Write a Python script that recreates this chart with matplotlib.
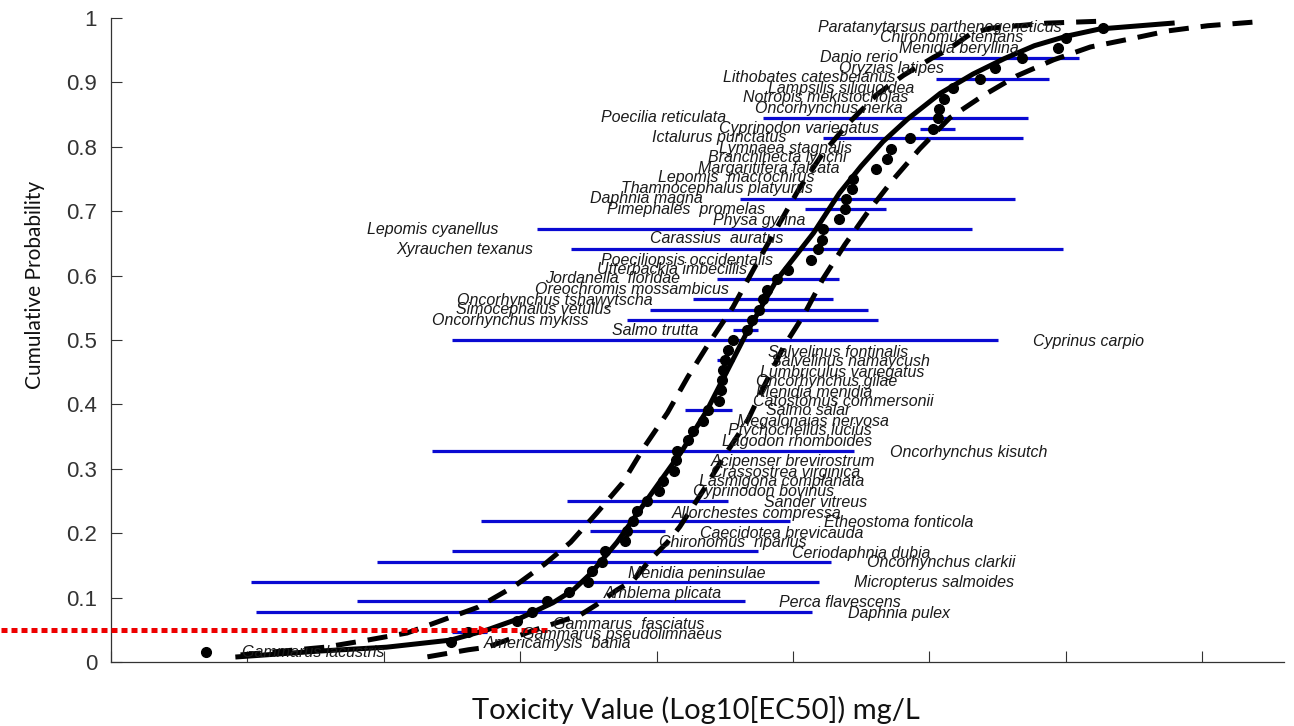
import matplotlib
matplotlib.use("Agg")
import matplotlib.pyplot as plt

# species ranked from most to least sensitive
species = [
    "Gammarus lacustris", "Americamysis  bahia", "Gammarus pseudolimnaeus", "Gammarus  fasciatus",
    "Daphnia pulex", "Perca flavescens", "Amblema plicata", "Micropterus salmoides",
    "Menidia peninsulae", "Oncorhynchus clarkii", "Ceriodaphnia dubia", "Chironomus  riparius",
    "Caecidotea brevicauda", "Etheostoma fonticola", "Allorchestes compressa", "Sander vitreus",
    "Cyprinodon bovinus", "Lasmigona complanata", "Crassostrea virginica", "Acipenser brevirostrum",
    "Oncorhynchus kisutch", "Lagodon rhomboides", "Ptychocheilus lucius", "Megalonaias nervosa",
    "Salmo salar", "Catostomus commersonii", "Menidia menidia", "Oncorhynchus gilae",
    "Lumbriculus variegatus", "Salvelinus namaycush", "Salvelinus fontinalis", "Cyprinus carpio",
    "Salmo trutta", "Oncorhynchus mykiss", "Simocephalus vetulus", "Oncorhynchus tshawytscha",
    "Oreochromis mossambicus", "Jordanella  floridae", "Utterbackia imbecillis",
    "Poeciliopsis occidentalis", "Xyrauchen texanus", "Carassius  auratus", "Lepomis cyanellus",
    "Physa gyrina", "Pimephales  promelas", "Daphnia magna", "Thamnocephalus platyurus",
    "Lepomis  macrochirus", "Margaritifera falcata", "Branchinecta lynchi", "Lymnaea stagnalis",
    "Ictalurus punctatus", "Cyprinodon variegatus", "Poecilia reticulata", "Oncorhynchus nerka",
    "Notropis mekistocholas", "Lampsilis siliquoidea", "Lithobates catesbeianus", "Oryzias latipes",
    "Danio rerio", "Menidia beryllina", "Chironomus tentans", "Paratanytarsus parthenogeneticus",
]
tox = [-1.30, 0.49, 0.62, 0.98, 1.09, 1.20, 1.36, 1.50, 1.53, 1.60, 1.62, 1.77, 1.78, 1.83,
       1.86, 1.93, 2.02, 2.05, 2.13, 2.14, 2.15, 2.23, 2.27, 2.34, 2.38, 2.46, 2.47, 2.48,
       2.49, 2.50, 2.52, 2.56, 2.66, 2.70, 2.75, 2.78, 2.81, 2.88, 2.96, 3.13, 3.18, 3.21,
       3.22, 3.34, 3.38, 3.39, 3.43, 3.44, 3.61, 3.69, 3.72, 3.86, 4.03, 4.06, 4.07, 4.11,
       4.17, 4.37, 4.48, 4.68, 4.94, 5.00, 5.27]
cum_prob = [0.016, 0.031, 0.047, 0.063, 0.078, 0.094, 0.109, 0.125, 0.141, 0.156, 0.172,
            0.188, 0.203, 0.219, 0.234, 0.250, 0.266, 0.281, 0.297, 0.313, 0.328, 0.344,
            0.359, 0.375, 0.391, 0.406, 0.422, 0.438, 0.453, 0.469, 0.484, 0.500, 0.516,
            0.531, 0.547, 0.563, 0.578, 0.594, 0.609, 0.625, 0.641, 0.656, 0.672, 0.688,
            0.703, 0.719, 0.734, 0.750, 0.766, 0.781, 0.797, 0.813, 0.828, 0.844, 0.859,
            0.875, 0.891, 0.906, 0.922, 0.938, 0.953, 0.969, 0.984]

# range of reported values for species with several tests (1-based rank)
bar_rank = [3, 5, 6, 8, 10, 11, 13, 14, 16, 21, 25, 30, 32, 33, 34, 35, 36, 38, 41, 43,
            45, 46, 52, 53, 54, 58, 60]
bar_lo = [0.50, -0.94, -0.20, -0.97, -0.05, 0.50, 1.51, 0.71, 1.34, 0.35, 2.21, 2.44, 0.50,
          2.56, 1.78, 1.95, 2.27, 2.44, 1.37, 1.12, 3.09, 2.61, 3.22, 3.93, 2.78, 4.05, 4.03]
bar_hi = [0.76, 3.14, 2.65, 3.19, 3.28, 2.74, 2.06, 2.98, 2.52, 3.45, 2.55, 2.57, 4.50,
          2.74, 3.62, 3.55, 3.29, 3.34, 4.98, 4.31, 3.68, 4.63, 4.69, 4.19, 4.72, 4.88, 5.10]

# fitted SSD and its confidence limits
fit_x = [-1.07, -0.47, 0.02, 0.49, 0.76, 1.00, 1.24, 1.39, 1.52, 1.71, 1.93, 2.19, 2.37,
         2.52, 2.66, 2.88, 3.15, 3.34, 3.50, 3.66, 3.84, 4.08, 4.32, 4.55, 4.77, 5.01, 5.25, 5.78]
fit_y = [0.008, 0.017, 0.023, 0.034, 0.050, 0.068, 0.092, 0.112, 0.138, 0.186, 0.252,
         0.329, 0.391, 0.453, 0.511, 0.593, 0.666, 0.728, 0.770, 0.808, 0.843, 0.883, 0.913,
         0.937, 0.957, 0.972, 0.983, 0.992]
upper_x = [-1.05, -0.43, -0.12, 0.17, 0.43, 0.69, 0.96, 1.18, 1.37, 1.56, 1.75, 1.91, 2.08,
           2.23, 2.39, 2.56, 2.74, 3.04, 3.22, 3.40, 3.62, 3.81, 4.03, 4.13, 4.30, 4.44,
           4.86, 5.25]
upper_y = [0.011, 0.023, 0.034, 0.045, 0.065, 0.085, 0.118, 0.152, 0.186, 0.231, 0.278,
           0.334, 0.387, 0.443, 0.497, 0.551, 0.621, 0.733, 0.790, 0.835, 0.882, 0.911,
           0.939, 0.950, 0.975, 0.984, 0.992, 0.995]
lower_x = [0.32, 0.62, 0.76, 1.11, 1.44, 1.56, 1.71, 1.83, 1.95, 2.08, 2.17, 2.35, 2.50,
           2.67, 2.78, 2.93, 3.08, 3.22, 3.38, 3.55, 3.73, 3.93, 4.15, 4.39, 4.64, 4.91,
           5.18, 5.46, 5.75, 6.04, 6.40]
lower_y = [0.008, 0.019, 0.023, 0.050, 0.073, 0.089, 0.112, 0.127, 0.158, 0.186, 0.210,
           0.269, 0.321, 0.376, 0.425, 0.489, 0.539, 0.595, 0.648, 0.699, 0.748, 0.797,
           0.845, 0.879, 0.910, 0.935, 0.955, 0.967, 0.980, 0.988, 0.994]

hc5 = 0.05  # 5th percentile read-out

# label anchor points (data coords), same order as species
label_x = [-1.04, 0.73, 1.01, 1.24, 3.40, 2.90, 1.61, 3.45, 1.79, 3.54, 2.99, 2.02, 2.32,
           3.23, 2.11, 2.79, 2.27, 2.31, 2.40, 2.40, 3.71, 2.48, 2.52, 2.59, 2.80, 2.71,
           2.73, 2.73, 2.76, 2.84, 2.82, 4.76, 1.67, 0.35, 0.53, 0.54, 1.11, 1.18, 1.56,
           1.59, 0.09, 1.95, -0.12, 2.41, 1.64, 1.51, 1.74, 2.01, 2.30, 2.38, 2.46, 1.97,
           2.46, 1.59, 2.72, 2.63, 2.82, 2.49, 3.34, 3.20, 3.78, 3.64, 3.18]
label_y = [0.014, 0.028, 0.043, 0.059, 0.076, 0.092, 0.107, 0.123, 0.138, 0.154, 0.169,
           0.185, 0.200, 0.217, 0.231, 0.248, 0.264, 0.280, 0.295, 0.311, 0.326, 0.342,
           0.359, 0.374, 0.390, 0.404, 0.419, 0.435, 0.450, 0.466, 0.481, 0.498, 0.514,
           0.531, 0.547, 0.562, 0.579, 0.595, 0.610, 0.624, 0.640, 0.657, 0.671, 0.686,
           0.702, 0.719, 0.736, 0.752, 0.767, 0.783, 0.798, 0.814, 0.829, 0.845, 0.860,
           0.876, 0.891, 0.907, 0.922, 0.938, 0.953, 0.970, 0.986]

W, H = 1294, 726
fig = plt.figure(figsize=(W / 100, H / 100), dpi=100)
ax = fig.add_axes([111 / W, 64 / H, 1173 / W, 644 / H])

for r, lo, hi in zip(bar_rank, bar_lo, bar_hi):
    ax.plot([lo, hi], [cum_prob[r - 1]] * 2, color="#0a0ad2", lw=2.3, solid_capstyle="butt", zorder=2)

ax.plot(fit_x, fit_y, color="black", lw=3.6, zorder=3)
ax.plot(upper_x, upper_y, color="black", lw=3.6, dashes=(4, 2.4), zorder=3)
ax.plot(lower_x, lower_y, color="black", lw=3.6, dashes=(4, 2.4), zorder=3)
ax.plot(tox, cum_prob, "o", color="black", ms=7, zorder=4)

# HC5 read-out
ax.plot([-2.81, 1.22], [hc5, hc5], color="#ee0000", lw=3.6, dashes=(1.2, 0.8),
        clip_on=False, zorder=5)
ax.plot([0.73], [hc5], marker=">", color="#ee0000", ms=6, zorder=6)

for name, lx, ly in zip(species, label_x, label_y):
    ax.text(lx, ly, name, fontsize=11.5, style="italic", family=["Liberation Sans", "DejaVu Sans"],
            ha="left", va="center", color="#1a1a1a", zorder=7)

ax.set_xlim(-2, 6.6)
ax.set_ylim(0, 1)
ax.set_xticks(range(-2, 7))
ax.set_xticklabels([])
ax.set_yticks([i / 10 for i in range(11)])
ax.set_yticklabels(["0"] + [f"0.{i}" for i in range(1, 10)] + ["1"],
                   fontsize=16, family="Liberation Sans", color="#333333")
ax.tick_params(direction="in", length=8, width=0.8, color="#333333", pad=10)
for side in ("top", "right"):
    ax.spines[side].set_visible(False)
for side in ("left", "bottom"):
    ax.spines[side].set_color("#333333")
    ax.spines[side].set_linewidth(0.9)

fig.text(35 / W, 1 - 285 / H, "Cumulative Probability", rotation=90, fontsize=15,
         family="Lato", ha="center", va="center", color="#111111")
fig.text(696 / W, 1 - 710 / H, "Toxicity Value (Log10[EC50]) mg/L", fontsize=21,
         family="Lato", ha="center", va="center", color="#111111")

fig.savefig("out.png", dpi=100)
